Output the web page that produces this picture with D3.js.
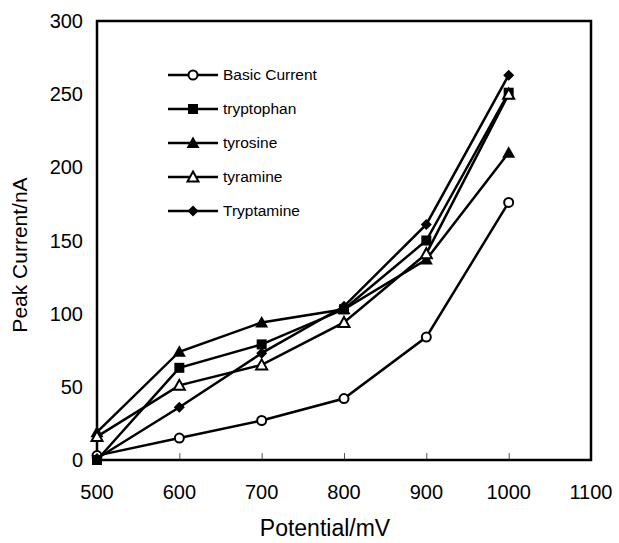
<!DOCTYPE html>
<html>
<head>
<meta charset="utf-8">
<script src="https://cdn.jsdelivr.net/npm/d3@7"></script>
<style>
  body { margin: 0; background: #fff; }
  text { font-family: "Liberation Sans", Arial, sans-serif; fill: #000; }
</style>
</head>
<body>
<svg id="chart" width="619" height="543"></svg>
<script>
// data
var potentials = [500, 600, 700, 800, 900, 1000]
var seriesNames = ["Basic Current", "tryptophan", "tyrosine", "tyramine", "Tryptamine"]
var basicCurrent = [3, 15, 27, 42, 84, 176]
var tryptophan = [0, 63, 79, 103, 150, 251]
var tyrosine = [19, 74, 94, 103, 137, 210]
var tyramine = [16, 51, 65, 94, 141, 250]
var tryptamine = [1, 36, 73, 105, 161, 263]
var xTicks = [500, 600, 700, 800, 900, 1000, 1100]
var yTicks = [0, 50, 100, 150, 200, 250, 300]

var allSeries = [basicCurrent, tryptophan, tyrosine, tyramine, tryptamine]
var markers = ["circle", "square", "triangle", "opentriangle", "diamond"]

const LEFT = 97, RIGHT = 591, TOP = 21, BOTTOM = 460
var chart = d3.select("#chart")

var x = d3.scaleLinear().domain([500, 1100]).range([LEFT, RIGHT])
var y = d3.scaleLinear().domain([0, 300]).range([BOTTOM, TOP])

// x ticks point inward
chart.append("g")
	.attr("transform", "translate(0," + BOTTOM + ")")
	.call(d3.axisTop(x).tickValues(xTicks.slice(1, -1)).tickSize(7).tickFormat(""))
	.call(g => g.select(".domain").remove())
	.selectAll("line").attr("stroke", "#555").attr("stroke-width", 1)

// tick labels
chart.append("g").selectAll("text").data(xTicks).enter()
	.append("text")
		.attr("x", d => x(d))
		.attr("y", BOTTOM + 32)
		.attr("dy", "0.35em")
		.attr("text-anchor", "middle")
		.attr("font-size", "20px")
		.text(d => d)
chart.append("g").selectAll("text").data(yTicks).enter()
	.append("text")
		.attr("x", LEFT - 14)
		.attr("y", d => y(d))
		.attr("dy", "0.35em")
		.attr("text-anchor", "end")
		.attr("font-size", "20px")
		.text(d => d)

// frame
chart.append("rect")
	.attr("x", LEFT).attr("y", TOP)
	.attr("width", RIGHT - LEFT).attr("height", BOTTOM - TOP)
	.attr("fill", "none").attr("stroke", "#000").attr("stroke-width", 2.5)

function drawMarker(sel, kind) {
	if (kind == "circle") {
		sel.append("circle").attr("r", 4.5).attr("fill", "#fff").attr("stroke", "#000").attr("stroke-width", 2)
	} else if (kind == "square") {
		sel.append("rect").attr("x", -5).attr("y", -5).attr("width", 10).attr("height", 10).attr("fill", "#000")
	} else if (kind == "triangle") {
		sel.append("path").attr("d", "M0,-6.5L6.5,5L-6.5,5Z").attr("fill", "#000")
	} else if (kind == "opentriangle") {
		sel.append("path").attr("d", "M0,-5.5L5.5,4.5L-5.5,4.5Z").attr("fill", "#fff").attr("stroke", "#000").attr("stroke-width", 2)
	} else {
		sel.append("path").attr("d", "M0,-5.5L5.5,0L0,5.5L-5.5,0Z").attr("fill", "#000")
	}
}

var line = d3.line().x((d, i) => x(potentials[i])).y(d => y(d))

allSeries.forEach(function (vals, s) {
	var g = chart.append("g")
	g.append("path")
		.attr("d", line(vals))
		.attr("fill", "none")
		.attr("stroke", "#000")
		.attr("stroke-width", 2.5)
	g.selectAll("g.pt").data(vals).enter()
		.append("g")
			.attr("class", "pt")
			.attr("transform", (d, i) => "translate(" + x(potentials[i]) + "," + y(d) + ")")
			.each(function () { drawMarker(d3.select(this), markers[s]) })
})

// legend
var legend = chart.append("g")
seriesNames.forEach(function (name, i) {
	var row = legend.append("g").attr("transform", "translate(168," + (75 + i * 34) + ")")
	row.append("line").attr("x1", 0).attr("x2", 50).attr("stroke", "#000").attr("stroke-width", 2.5)
	drawMarker(row.append("g").attr("transform", "translate(25,0)"), markers[i])
	row.append("text")
		.attr("x", 55)
		.attr("dy", "0.35em")
		.attr("font-size", "15.5px")
		.text(name)
})

// axis titles
chart.append("text")
	.attr("x", 325)
	.attr("y", 536)
	.attr("text-anchor", "middle")
	.attr("font-size", "23px")
	.text("Potential/mV")
chart.append("text")
	.attr("transform", "translate(27,255) rotate(-90)")
	.attr("text-anchor", "middle")
	.attr("font-size", "21px")
	.text("Peak Current/nA")
</script>
</body>
</html>
